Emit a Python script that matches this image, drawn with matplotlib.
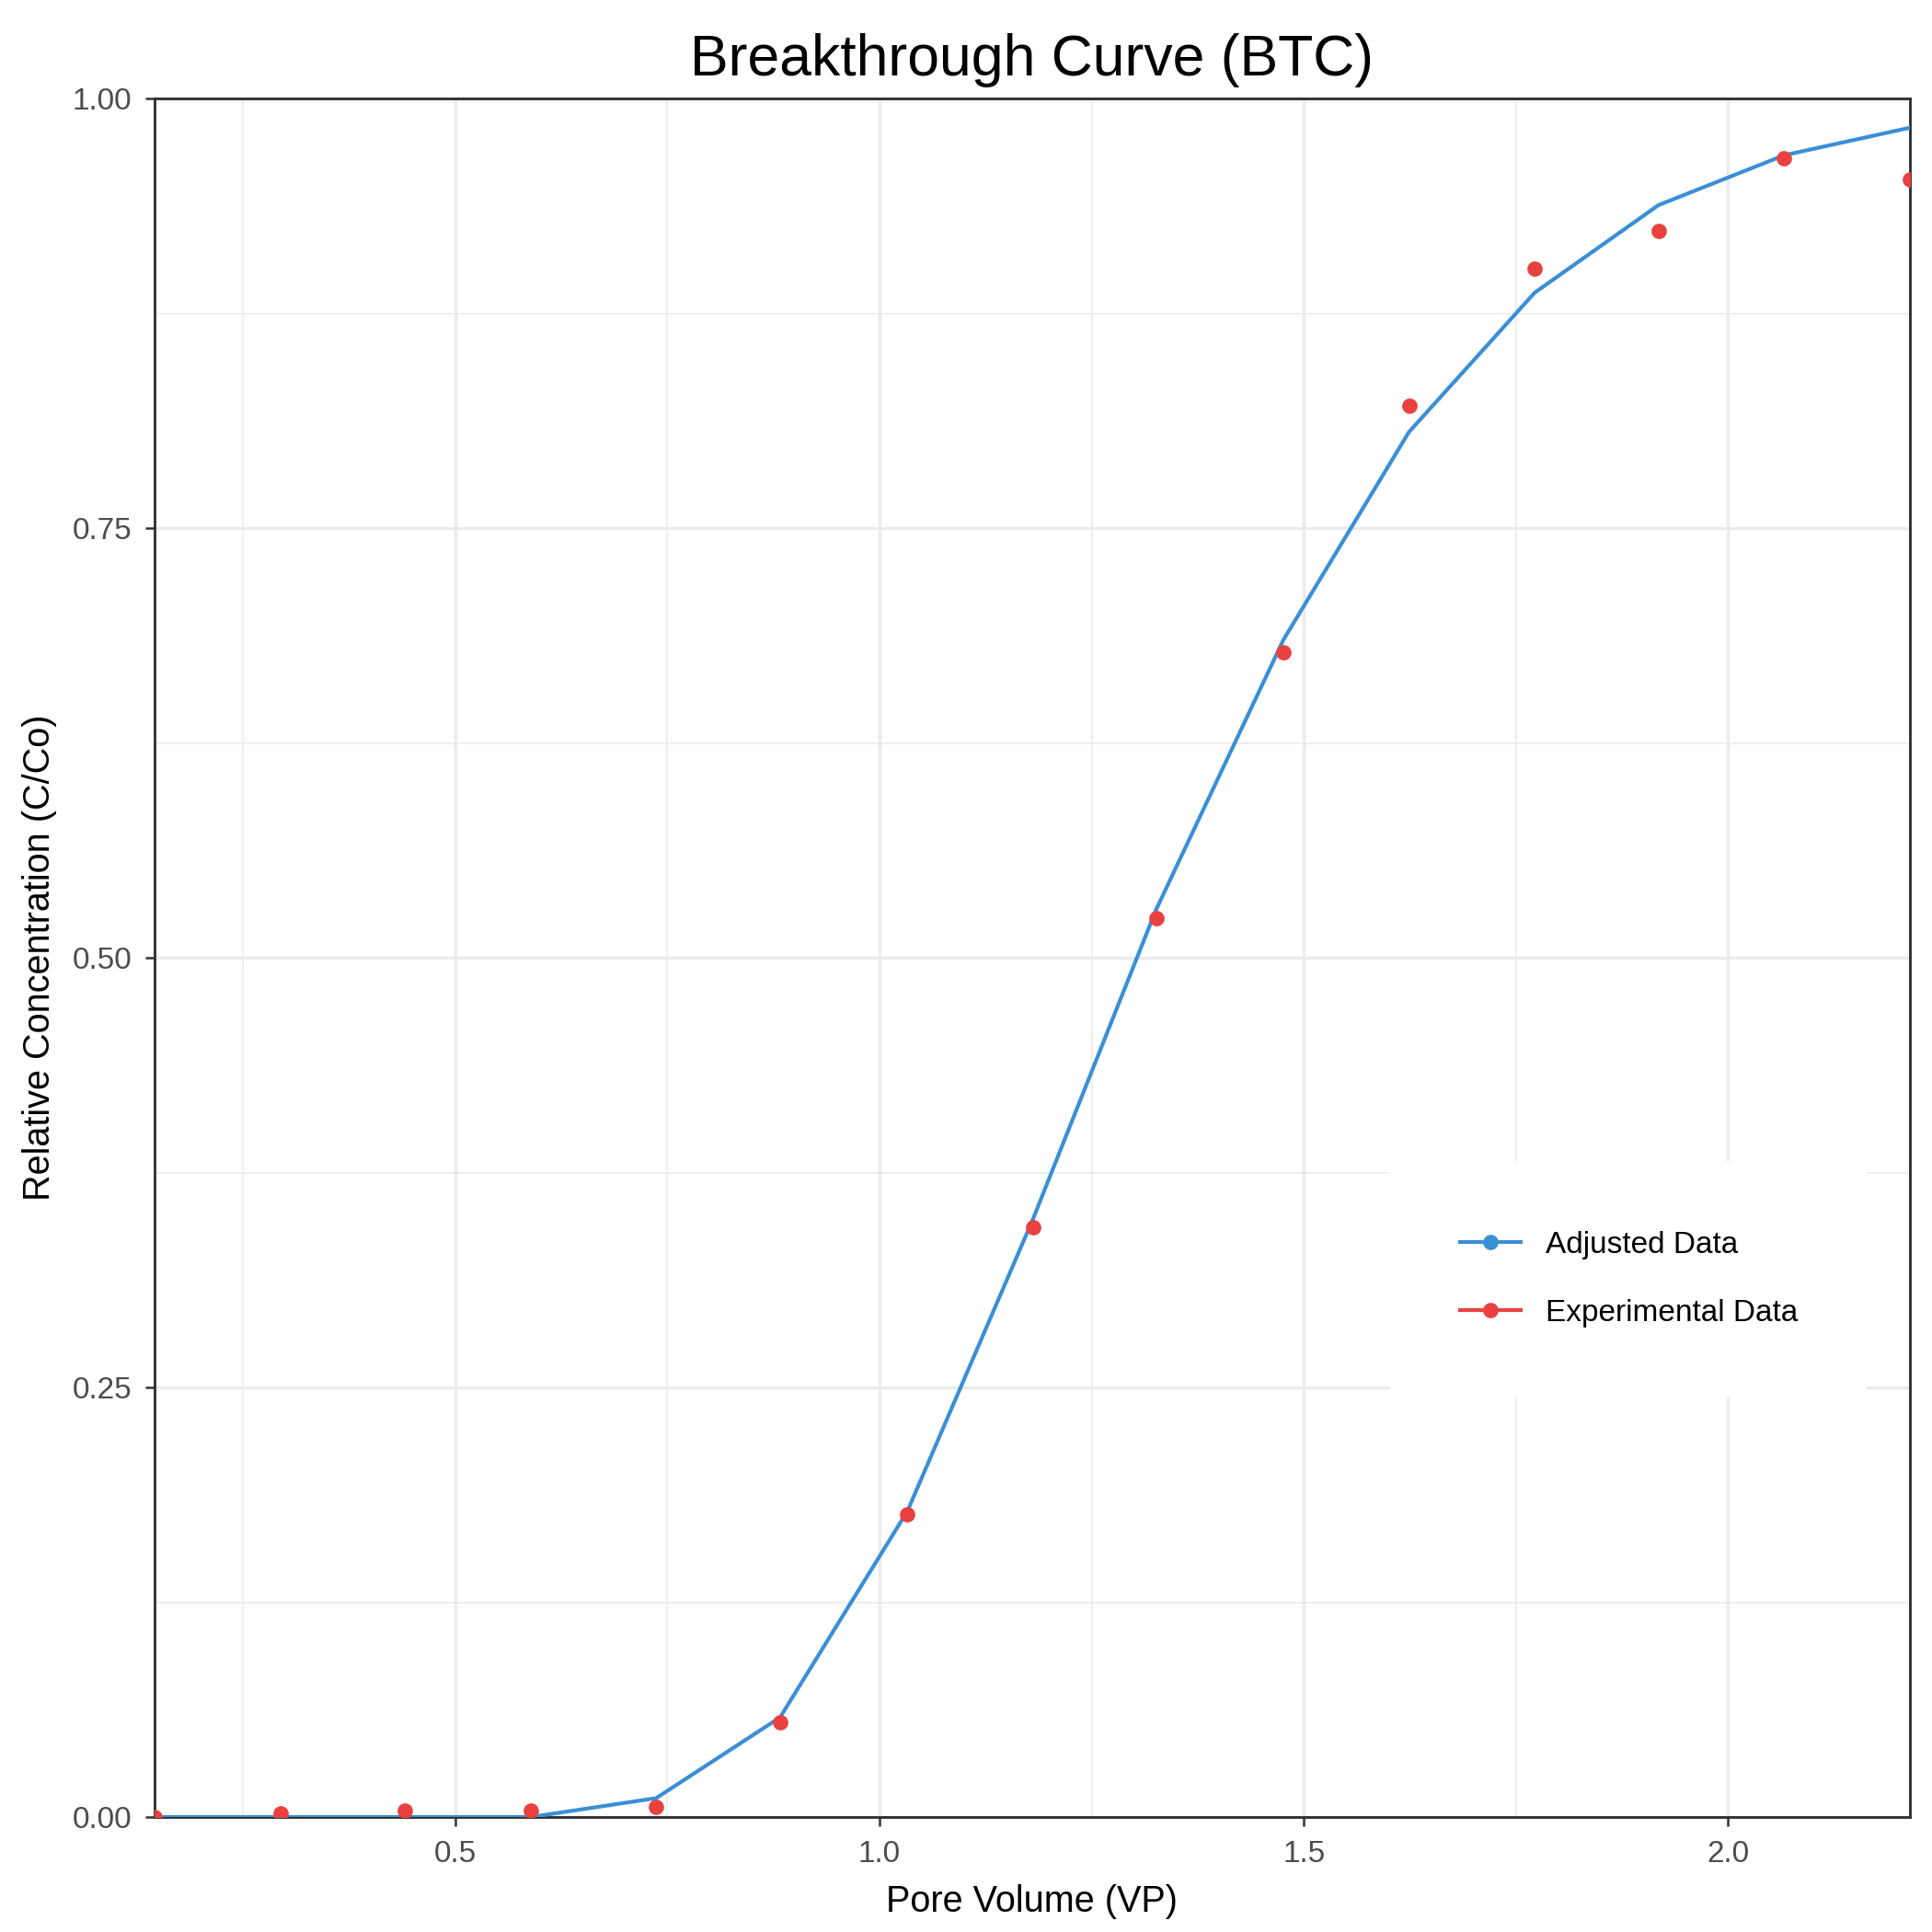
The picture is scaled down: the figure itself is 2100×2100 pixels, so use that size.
import matplotlib
matplotlib.use("Agg")
import matplotlib.pyplot as plt
from matplotlib.ticker import MultipleLocator

plt.rcParams['font.family'] = ['Liberation Sans', 'DejaVu Sans']

pv = [0.146, 0.294, 0.441, 0.589, 0.737, 0.883, 1.033, 1.181, 1.326, 1.476, 1.624, 1.772, 1.918, 2.066, 2.214]
exp_c = [0.0, 0.002, 0.004, 0.004, 0.006, 0.055, 0.176, 0.343, 0.523, 0.678, 0.821, 0.901, 0.923, 0.965, 0.953]
adj_c = [0.0, 0.0, 0.0, 0.0, 0.011, 0.058, 0.178, 0.348, 0.528, 0.685, 0.806, 0.887, 0.938, 0.967, 0.983]

blue = '#3A8FD6'
red = '#E8413F'

fig = plt.figure(figsize=(7, 7), dpi=300)
ax = fig.add_axes([0.080, 0.0595, 0.9085, 0.8895])
ax.plot(pv, adj_c, color=blue, lw=1.0, label='Adjusted Data', zorder=3)
ax.plot(pv, exp_c, color=red, lw=0, marker='o', markersize=3.0, label='Experimental Data', zorder=4)
ax.set_xlim(0.146, 2.214)
ax.set_ylim(0, 1)
ax.xaxis.set_major_locator(MultipleLocator(0.5))
ax.xaxis.set_minor_locator(MultipleLocator(0.25))
ax.yaxis.set_major_locator(MultipleLocator(0.25))
ax.yaxis.set_minor_locator(MultipleLocator(0.125))
ax.yaxis.set_major_formatter(matplotlib.ticker.FormatStrFormatter('%.2f'))
ax.xaxis.set_major_formatter(matplotlib.ticker.FormatStrFormatter('%.1f'))
ax.grid(which='major', color='#EBEBEB', lw=0.8)
ax.grid(which='minor', color='#EBEBEB', lw=0.4)
ax.set_axisbelow(True)
ax.tick_params(which='minor', length=0)
ax.tick_params(which='major', length=2.5, width=0.6, color='#333333', labelsize=8, labelcolor='#4D4D4D')
for s in ax.spines.values():
    s.set_color('#333333'); s.set_linewidth(0.7)
ax.set_title('Breakthrough Curve (BTC)', fontsize=15, pad=6)
ax.set_xlabel('Pore Volume (VP)', fontsize=9.5)
ax.set_ylabel('Relative Concentration (C/Co)', fontsize=9.5)

from matplotlib.lines import Line2D
handles = [Line2D([], [], color=blue, lw=1, marker='o', markersize=3.0),
           Line2D([], [], color=red, lw=1, marker='o', markersize=3.0)]
leg = fig.legend(handles, ['Adjusted Data', 'Experimental Data'], loc='center',
                 bbox_to_anchor=(0.843, 0.338), fontsize=8, frameon=True,
                 fancybox=False, edgecolor='white', framealpha=1, borderpad=2.2,
                 labelspacing=1.3, handlelength=2.0, borderaxespad=0)
fig.savefig('out.png', dpi=300)
